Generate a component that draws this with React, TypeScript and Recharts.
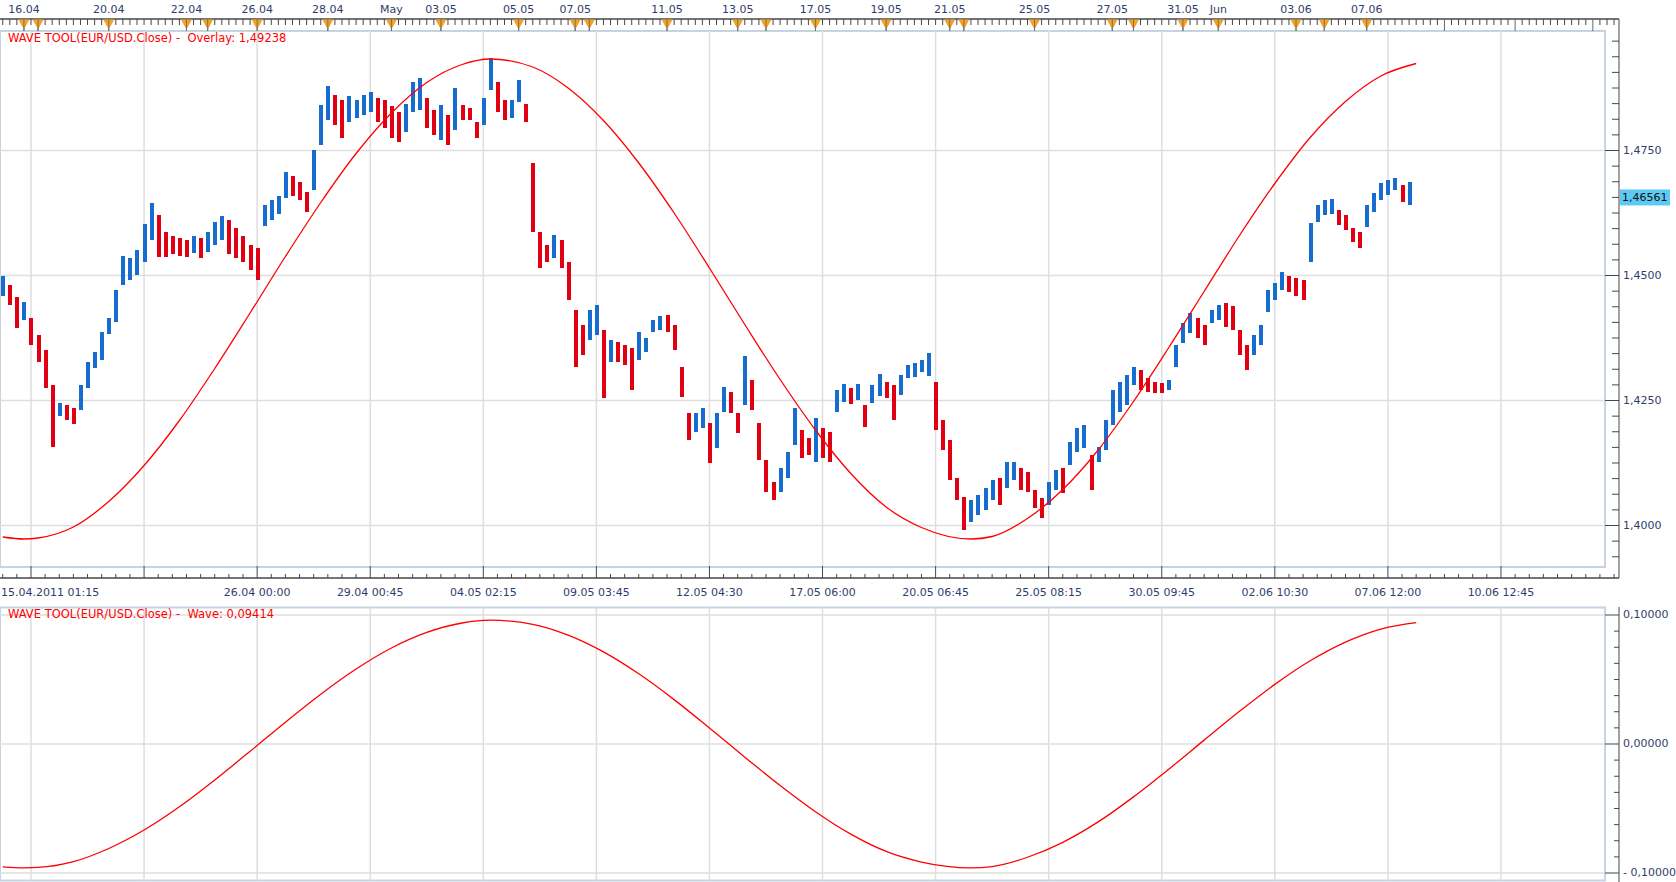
import {
  Bar,
  Cell,
  ComposedChart,
  Line,
  ReferenceArea,
  ReferenceLine,
  XAxis,
  YAxis,
} from "recharts";

const FONT = '"DejaVu Sans", Verdana, sans-serif';
const RED = "#e00012";
const BLUE = "#166ccf";
const WAVE_RED = "#ff0000";
const GRID = "#dedede";
const FRAME = "#c6d3e1";
const AXIS = "#474747";
const LABEL = "#323c6c";
const ORANGE = "#f6a21e";

// EUR/USD bars, one per slot, high / low
const highs = [
  1.4499, 1.4481, 1.4457, 1.4447, 1.4415, 1.4381, 1.4351, 1.4281, 1.4245, 1.4241,
  1.4235, 1.4281, 1.4327, 1.4347, 1.4387, 1.4415, 1.4471, 1.4539, 1.4535, 1.4551,
  1.4603, 1.4645, 1.4621, 1.4587, 1.4579, 1.4575, 1.4571, 1.4579, 1.4575, 1.4587,
  1.4607, 1.4619, 1.4611, 1.4595, 1.4579, 1.4561, 1.4555, 1.4641, 1.4651, 1.4659,
  1.4707, 1.4699, 1.4687, 1.4667, 1.4751, 1.4841, 1.4879, 1.4861, 1.4851, 1.4859,
  1.4851, 1.4861, 1.4867, 1.4855, 1.4851, 1.4839, 1.4827, 1.4843, 1.4887, 1.4895,
  1.4855, 1.4831, 1.4841, 1.4821, 1.4875, 1.4841, 1.4835, 1.4807, 1.4855, 1.4935,
  1.4887, 1.4851, 1.4851, 1.4891, 1.4843, 1.4725, 1.4587, 1.4561, 1.4581, 1.4571,
  1.4527, 1.4431, 1.4401, 1.4431, 1.4441, 1.4391, 1.4371, 1.4367, 1.4361, 1.4355,
  1.4387, 1.4375, 1.4411, 1.4419, 1.4421, 1.4401, 1.4317, 1.4225, 1.4225, 1.4235,
  1.4205, 1.4225, 1.4277, 1.4267, 1.4225, 1.4339, 1.4291, 1.4205, 1.4131, 1.4087,
  1.4115, 1.4147, 1.4235, 1.4191, 1.4175, 1.4215, 1.4195, 1.4187, 1.4271, 1.4283,
  1.4275, 1.4283, 1.4241, 1.4281, 1.4303, 1.4287, 1.4281, 1.4301, 1.4321, 1.4325,
  1.4331, 1.4345, 1.4287, 1.4211, 1.4171, 1.4095, 1.4057, 1.4051, 1.4061, 1.4075,
  1.4091, 1.4095, 1.4127, 1.4127, 1.4115, 1.4107, 1.4071, 1.4055, 1.4087, 1.4111,
  1.4115, 1.4167, 1.4195, 1.4201, 1.4141, 1.4157, 1.4211, 1.4271, 1.4287, 1.4301,
  1.4317, 1.4311, 1.4295, 1.4287, 1.4285, 1.4291, 1.4361, 1.4405, 1.4425, 1.4415,
  1.4401, 1.4431, 1.4441, 1.4445, 1.4439, 1.4391, 1.4361, 1.4381, 1.4401, 1.4471,
  1.4485, 1.4507, 1.4499, 1.4495, 1.4491, 1.4605, 1.4641, 1.4651, 1.4653, 1.4631,
  1.4621, 1.4595, 1.4587, 1.4641, 1.4665, 1.4685, 1.4691, 1.4695, 1.4681, 1.4687,
];
const lows = [
  1.4459, 1.4441, 1.4395, 1.4411, 1.4361, 1.4327, 1.4275, 1.4157, 1.4219, 1.4211,
  1.4203, 1.4231, 1.4275, 1.4315, 1.4331, 1.4383, 1.4407, 1.4481, 1.4491, 1.4501,
  1.4527, 1.4571, 1.4537, 1.4537, 1.4543, 1.4539, 1.4537, 1.4545, 1.4535, 1.4547,
  1.4561, 1.4571, 1.4543, 1.4535, 1.4527, 1.4511, 1.4491, 1.4599, 1.4611, 1.4623,
  1.4655, 1.4659, 1.4651, 1.4627, 1.4671, 1.4761, 1.4811, 1.4801, 1.4775, 1.4807,
  1.4815, 1.4821, 1.4827, 1.4807, 1.4795, 1.4775, 1.4767, 1.4787, 1.4827, 1.4831,
  1.4795, 1.4781, 1.4771, 1.4761, 1.4791, 1.4811, 1.4811, 1.4775, 1.4801, 1.4871,
  1.4827, 1.4811, 1.4815, 1.4847, 1.4807, 1.4587, 1.4515, 1.4527, 1.4535, 1.4515,
  1.4451, 1.4317, 1.4341, 1.4371, 1.4381, 1.4255, 1.4327, 1.4327, 1.4321, 1.4271,
  1.4331, 1.4347, 1.4387, 1.4391, 1.4387, 1.4351, 1.4257, 1.4171, 1.4187, 1.4195,
  1.4125, 1.4155, 1.4227, 1.4225, 1.4185, 1.4241, 1.4231, 1.4131, 1.4067, 1.4051,
  1.4067, 1.4095, 1.4161, 1.4135, 1.4141, 1.4127, 1.4135, 1.4127, 1.4227, 1.4247,
  1.4243, 1.4251, 1.4197, 1.4245, 1.4259, 1.4255, 1.4211, 1.4261, 1.4295, 1.4297,
  1.4307, 1.4299, 1.4191, 1.4151, 1.4091, 1.4051, 1.3991, 1.4007, 1.4021, 1.4031,
  1.4051, 1.4041, 1.4075, 1.4091, 1.4071, 1.4067, 1.4035, 1.4015, 1.4041, 1.4071,
  1.4065, 1.4121, 1.4147, 1.4155, 1.4071, 1.4127, 1.4151, 1.4201, 1.4227, 1.4241,
  1.4281, 1.4271, 1.4267, 1.4265, 1.4265, 1.4271, 1.4317, 1.4365, 1.4385, 1.4375,
  1.4361, 1.4405, 1.4411, 1.4397, 1.4391, 1.4341, 1.4311, 1.4341, 1.4361, 1.4427,
  1.4451, 1.4471, 1.4467, 1.4459, 1.4451, 1.4527, 1.4607, 1.4621, 1.4623, 1.4601,
  1.4591, 1.4567, 1.4555, 1.4597, 1.4627, 1.4651, 1.4661, 1.4671, 1.4647, 1.4641,
];

// wave tool, sampled every few slots
const waveIdx = [
  0, 3, 5, 10, 15, 20, 25, 30, 35, 40, 45, 50, 55, 60, 65, 69, 75, 80, 85, 90, 95,
  100, 105, 110, 115, 120, 125, 130, 137, 140, 145, 150, 155, 160, 165, 170, 175,
  180, 185, 190, 195, 200,
];
const waveVals = [
  -0.0952, -0.096, -0.0957, -0.0912, -0.081, -0.0667, -0.0487, -0.0279, -0.0057, 0.0169,
  0.0386, 0.0581, 0.0744, 0.0865, 0.0938, 0.096, 0.0928, 0.0844, 0.0714, 0.0544, 0.0344,
  0.0124, -0.0102, -0.0322, -0.0525, -0.0699, -0.0833, -0.0915, -0.096, -0.095, -0.0878,
  -0.0762, -0.0604, -0.041, -0.0195, 0.003, 0.0253, 0.0462, 0.0645, 0.079, 0.0891,
  0.0941,
];
const overlayVals = [
  1.3977, 1.3973, 1.3975, 1.3997, 1.4048, 1.412, 1.421, 1.4314, 1.4425, 1.4538,
  1.4646, 1.4744, 1.4825, 1.4886, 1.4922, 1.4933, 1.4917, 1.4875, 1.481, 1.4725, 1.4625,
  1.4515, 1.4402, 1.4292, 1.4191, 1.4104, 1.4037, 1.3996, 1.3973, 1.3978, 1.4014,
  1.4072, 1.4151, 1.4248, 1.4356, 1.4468, 1.458, 1.4684, 1.4776, 1.4848, 1.4899,
  1.4924,
];

const lastPrice = 1.46561;
const lastOverlay = 1.49238;
const lastWave = 0.09414;

const topLabelIdx = [3, 15, 26, 36, 46, 55, 62, 73, 81, 94, 104, 115, 125, 134, 146, 157, 167, 172, 183, 193];
const topLabelText = [
  "16.04", "20.04", "22.04", "26.04", "28.04", "May", "03.05", "05.05", "07.05", "11.05",
  "13.05", "17.05", "19.05", "21.05", "25.05", "27.05", "31.05", "Jun", "03.06", "07.06",
];
const eventIdx = [
  3, 5, 15, 26, 29, 36, 46, 55, 62, 73, 81, 83, 94, 104, 108, 115, 125, 134, 136, 146,
  157, 160, 167, 172, 183, 187, 193,
];
const dayMarkIdx = [204, 214, 225];

const bottomMajorIdx = [4, 20, 36, 52, 68, 84, 100, 116, 132, 148, 164, 180, 196, 212];
const bottomLabelText = [
  "15.04.2011 01:15", "", "26.04 00:00", "29.04 00:45", "04.05 02:15", "09.05 03:45",
  "12.05 04:30", "17.05 06:00", "20.05 06:45", "25.05 08:15", "30.05 09:45",
  "02.06 10:30", "07.06 12:00", "10.06 12:45",
];

const priceGrid = [1.4, 1.425, 1.45, 1.475];
const waveGrid = [0.1, 0, -0.1];

// frame / domains
const W = 1676;
const MAIN_H = 600;
const LOWER_H = 282;
const X_MIN = -0.386;
const X_MAX = 228.7;
const X_BOX = 226.73;
const P_MIN = 1.3895;
const P_MAX = 1.5013;
const P_BOX_LO = 1.3917;
const P_BOX_HI = 1.4989;
const WV_MIN = -0.10698;
const WV_MAX = 0.1062;
const WV_BOX = 0.1058;

const rows = waveIdx[waveIdx.length - 1] >= highs.length
  ? Array.from({ length: waveIdx[waveIdx.length - 1] + 1 }, (_, i) => i)
  : highs.map((_, i) => i);

const data = rows.map((i) => {
  const h = highs[i];
  const lo = lows[i];
  const hasBar = h !== undefined;
  const mid = hasBar ? (h + lo) / 2 : 0;
  const prevMid = i > 0 && hasBar ? (highs[i - 1] + lows[i - 1]) / 2 : mid;
  const k = waveIdx.indexOf(i);
  return {
    i,
    range: hasBar ? [lo, h] : null,
    up: mid >= prevMid,
    ov: k >= 0 ? overlayVals[k] : null,
    wave: k >= 0 ? waveVals[k] : null,
  };
});

const topTicks: number[] = [];
for (let t = 0; t <= 228; t++) topTicks.push(t);
const bottomTicks: number[] = [];
for (let t = 0; t <= 228; t += 2) bottomTicks.push(t);
const priceTicks: number[] = [];
for (let k = -2; k <= 31; k++) priceTicks.push(+(1.4 + k * 0.003125).toFixed(6));
priceTicks.push(lastPrice);
const waveTicks: number[] = [];
for (let k = -8; k <= 8; k++) waveTicks.push(+(k * 0.0125).toFixed(6));

const fmt = (v: number, d: number) => {
  const s = Math.abs(v).toFixed(d).replace(".", ",");
  return v < -1e-9 ? "- " + s : s;
};

const textStyle = { fontFamily: FONT, fontSize: 11 };

function TopTick({ x, y, payload }: any) {
  const v = payload.value;
  const li = topLabelIdx.indexOf(v);
  const ev = eventIdx.includes(v);
  const long = ev || li >= 0 || dayMarkIdx.includes(v);
  return (
    <g>
      <line x1={x} x2={x} y1={y} y2={y + (long ? 12 : 6)} stroke={long ? "#5d6b80" : AXIS} />
      {ev && (
        <polygon points={`${x - 5.5},${y + 0.5} ${x + 5.5},${y + 0.5} ${x},${y + 10.5}`} fill={ORANGE} />
      )}
      {ev && <line x1={x} x2={x} y1={y} y2={y + 12} stroke="#6b7280" />}
      {li >= 0 && (
        <text x={x} y={y - 9.5} textAnchor="middle" dominantBaseline="central" fill={LABEL} style={textStyle}>
          {topLabelText[li]}
        </text>
      )}
    </g>
  );
}

function BottomTick({ x, y, payload }: any) {
  const v = payload.value;
  const mi = bottomMajorIdx.indexOf(v);
  const major = mi >= 0;
  const first = mi === 0;
  return (
    <g>
      <line x1={x} x2={x} y1={y} y2={y - (major ? 12 : 4)} stroke={AXIS} />
      {major && bottomLabelText[mi] && (
        <text
          x={first ? 1 : x}
          y={y + 14}
          textAnchor={first ? "start" : "middle"}
          dominantBaseline="central"
          fill={LABEL}
          style={textStyle}
        >
          {bottomLabelText[mi]}
        </text>
      )}
    </g>
  );
}

function PriceTick({ x, y, payload }: any) {
  const v = payload.value;
  if (Math.abs(v - lastPrice) < 1e-7) {
    return (
      <g>
        <rect x={x + 1} y={y - 8} width={50} height={16} fill="#5dc9f4" />
        <text x={x + 3} y={y} dominantBaseline="central" fill="#111" style={textStyle}>
          {fmt(lastPrice, 5)}
        </text>
      </g>
    );
  }
  const k = Math.round((v - 1.4) / 0.003125);
  const major = k % 8 === 0;
  return (
    <g>
      <line x1={x - (major ? 14 : 7)} x2={x} y1={y} y2={y} stroke={AXIS} />
      {major && (
        <text x={x + 4} y={y} dominantBaseline="central" fill={LABEL} style={textStyle}>
          {fmt(v, 4)}
        </text>
      )}
    </g>
  );
}

function WaveTick({ x, y, payload }: any) {
  const v = payload.value;
  const k = Math.round(v / 0.0125);
  const major = k % 8 === 0;
  return (
    <g>
      <line x1={x - (major ? 14 : 5)} x2={x} y1={y} y2={y} stroke={AXIS} />
      {major && (
        <text x={x + 4} y={y} dominantBaseline="central" fill={LABEL} style={textStyle}>
          {fmt(v, 5)}
        </text>
      )}
    </g>
  );
}

// thin high-low stick, snapped to whole pixels
function PriceStick(props: any) {
  const { x, y, width, height, fill } = props;
  if (x == null || y == null) return null;
  const cx = Math.round(x + width / 2);
  const top = height < 0 ? y + height : y;
  const h = Math.max(Math.abs(height), 1);
  return <rect x={cx - 2} y={top} width={4} height={h} fill={fill} shapeRendering="crispEdges" />;
}

const titleStyle = {
  position: "absolute" as const,
  left: 8,
  fontFamily: FONT,
  fontSize: 11.5,
  lineHeight: "13px",
  color: "#ff0000",
  whiteSpace: "pre" as const,
};

const layer = (top: number) => ({ position: "absolute" as const, left: 0, top });

// same plot geometry for the grid layer and the data layer
function mainAxes(bare: boolean) {
  return [
    <XAxis
      key="top"
      xAxisId="top"
      orientation="top"
      dataKey="i"
      type="number"
      domain={[X_MIN, X_MAX]}
      allowDataOverflow
      ticks={topTicks}
      interval={0}
      height={19}
      tickSize={0}
      tickMargin={0}
      tickLine={false}
      tick={bare ? false : TopTick}
      axisLine={bare ? false : { stroke: AXIS, strokeWidth: 1.5 }}
    />,
    <XAxis
      key="b"
      xAxisId="b"
      dataKey="i"
      type="number"
      domain={[X_MIN, X_MAX]}
      allowDataOverflow
      ticks={bottomTicks}
      interval={0}
      height={22}
      tickSize={0}
      tickMargin={0}
      tickLine={false}
      tick={bare ? false : BottomTick}
      axisLine={bare ? false : { stroke: AXIS, strokeWidth: 1.5 }}
    />,
    <YAxis
      key="p"
      yAxisId="p"
      orientation="right"
      type="number"
      domain={[P_MIN, P_MAX]}
      allowDataOverflow
      ticks={priceTicks}
      interval={0}
      width={57}
      tickSize={0}
      tickMargin={0}
      tickLine={false}
      tick={bare ? false : PriceTick}
      axisLine={bare ? false : { stroke: AXIS }}
    />,
  ];
}

function lowerAxes(bare: boolean) {
  return [
    <XAxis key="b" xAxisId="b" dataKey="i" type="number" domain={[X_MIN, X_MAX]} allowDataOverflow hide />,
    <YAxis
      key="w"
      yAxisId="w"
      orientation="right"
      type="number"
      domain={[WV_MIN, WV_MAX]}
      allowDataOverflow
      ticks={waveTicks}
      interval={0}
      width={57}
      tickSize={0}
      tickMargin={0}
      tickLine={false}
      tick={bare ? false : WaveTick}
      axisLine={bare ? false : { stroke: AXIS }}
    />,
  ];
}

const MAIN_MARGIN = { top: 0, right: 0, bottom: 0, left: 0 };
const LOWER_MARGIN = { top: 7, right: 0, bottom: 0, left: 0 };

export default function App() {
  return (
    <div
      style={{
        position: "absolute",
        left: 0,
        top: 0,
        width: W,
        height: MAIN_H + LOWER_H,
        background: "#fff",
        overflow: "hidden",
      }}
    >
      {/* grid layer, main pane */}
      <div style={layer(0)}>
        <ComposedChart width={W} height={MAIN_H} data={data} margin={MAIN_MARGIN}>
          {mainAxes(true)}
          <ReferenceArea
            xAxisId="b"
            yAxisId="p"
            x1={X_MIN}
            x2={X_BOX}
            y1={P_BOX_LO}
            y2={P_BOX_HI}
            fill="none"
            stroke={FRAME}
            strokeWidth={2}
            ifOverflow="visible"
          />
          {bottomMajorIdx.map((v) => (
            <ReferenceLine
              key={"pv" + v}
              xAxisId="b"
              yAxisId="p"
              segment={[{ x: v, y: P_BOX_LO }, { x: v, y: P_BOX_HI }]}
              stroke={GRID}
              strokeWidth={1.5}
              ifOverflow="visible"
            />
          ))}
          {priceGrid.map((v) => (
            <ReferenceLine
              key={"ph" + v}
              xAxisId="b"
              yAxisId="p"
              segment={[{ x: X_MIN, y: v }, { x: X_BOX, y: v }]}
              stroke={GRID}
              strokeWidth={1.5}
              ifOverflow="visible"
            />
          ))}
        </ComposedChart>
      </div>

      {/* data layer, main pane */}
      <div style={layer(0)}>
        <ComposedChart width={W} height={MAIN_H} data={data} margin={MAIN_MARGIN}>
          {mainAxes(false)}
          <Bar xAxisId="b" yAxisId="p" dataKey="range" barSize={4} shape={PriceStick} isAnimationActive={false}>
            {data.map((r) => (
              <Cell key={r.i} fill={r.up ? BLUE : RED} />
            ))}
          </Bar>
          <Line
            xAxisId="b"
            yAxisId="p"
            dataKey="ov"
            type="monotone"
            connectNulls
            stroke={WAVE_RED}
            strokeWidth={1.3}
            dot={false}
            activeDot={false}
            isAnimationActive={false}
          />
        </ComposedChart>
      </div>

      {/* grid layer, wave pane */}
      <div style={layer(MAIN_H)}>
        <ComposedChart width={W} height={LOWER_H} data={data} margin={LOWER_MARGIN}>
          {lowerAxes(true)}
          <ReferenceArea
            xAxisId="b"
            yAxisId="w"
            x1={X_MIN}
            x2={X_BOX}
            y1={-WV_BOX}
            y2={WV_BOX}
            fill="none"
            stroke={FRAME}
            strokeWidth={2}
            ifOverflow="visible"
          />
          {bottomMajorIdx.map((v) => (
            <ReferenceLine
              key={"wv" + v}
              xAxisId="b"
              yAxisId="w"
              segment={[{ x: v, y: -WV_BOX }, { x: v, y: WV_BOX }]}
              stroke={GRID}
              strokeWidth={1.5}
              ifOverflow="visible"
            />
          ))}
          {waveGrid.map((v) => (
            <ReferenceLine
              key={"wh" + v}
              xAxisId="b"
              yAxisId="w"
              segment={[{ x: X_MIN, y: v }, { x: X_BOX, y: v }]}
              stroke={GRID}
              strokeWidth={1.5}
              ifOverflow="visible"
            />
          ))}
        </ComposedChart>
      </div>

      {/* data layer, wave pane */}
      <div style={layer(MAIN_H)}>
        <ComposedChart width={W} height={LOWER_H} data={data} margin={LOWER_MARGIN}>
          {lowerAxes(false)}
          <Line
            xAxisId="b"
            yAxisId="w"
            dataKey="wave"
            type="monotone"
            connectNulls
            stroke={WAVE_RED}
            strokeWidth={1.3}
            dot={false}
            activeDot={false}
            isAnimationActive={false}
          />
        </ComposedChart>
      </div>

      <div style={{ ...titleStyle, top: 32 }}>
        {"WAVE TOOL(EUR/USD.Close) -  Overlay: " + fmt(lastOverlay, 5)}
      </div>
      <div style={{ ...titleStyle, top: 608 }}>
        {"WAVE TOOL(EUR/USD.Close) -  Wave: " + fmt(lastWave, 5)}
      </div>
    </div>
  );
}
